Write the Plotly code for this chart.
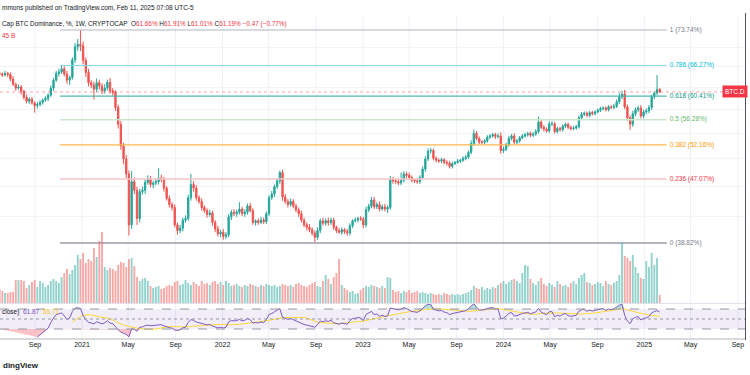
import numpy as np
import pandas as pd
import plotly.graph_objects as go

W, H = 750, 375

# ---------------- data (weekly BTC dominance) ----------------
week_start = "2020-06-01"
first_open = 64.7
close = [
    64.6, 64.4, 64.7, 64.5, 63.6, 62.6, 61.9, 62.1, 61.3, 60.2,
    59.5, 59.9, 59.2, 58.7, 58.9, 59.3, 59.7, 60.0, 60.6, 61.9,
    63.4, 64.7, 65.0, 65.6, 64.6, 63.4, 63.9, 67.4, 70.1, 70.6,
    70.3, 67.3, 64.9, 62.9, 62.5, 61.7, 62.9, 62.3, 61.4, 61.9,
    63.0, 61.4, 61.1, 58.4, 55.5, 52.0, 50.0, 47.8, 41.0, 46.7,
    45.5, 41.8, 45.3, 45.5, 46.6, 47.1, 46.3, 46.5, 46.7, 47.2,
    47.0, 45.8, 44.4, 43.6, 43.2, 41.0, 40.3, 40.6, 41.6, 41.8,
    44.5, 46.3, 45.8, 44.5, 44.0, 43.2, 42.8, 42.3, 42.5, 41.3,
    40.5, 39.9, 40.1, 39.6, 39.8, 42.0, 42.6, 42.4, 42.6, 43.0,
    42.4, 42.6, 43.4, 42.8, 41.3, 41.5, 41.3, 41.6, 41.4, 42.4,
    44.5, 45.0, 46.0, 46.8, 48.0, 44.6, 44.0, 43.6, 44.0, 43.4,
    42.9, 42.4, 41.6, 41.0, 40.7, 40.4, 40.0, 39.5, 40.3, 41.5,
    41.2, 41.5, 41.3, 41.6, 40.7, 40.3, 40.1, 40.4, 40.2, 40.0,
    40.9, 41.5, 41.6, 41.8, 41.7, 41.0, 42.9, 43.4, 44.2, 43.3,
    43.6, 43.0, 43.3, 43.0, 43.2, 47.0, 46.8, 46.7, 46.5, 46.9,
    47.8, 47.6, 47.3, 46.9, 46.8, 46.7, 47.3, 48.5, 50.0, 51.2,
    51.3, 50.1, 49.8, 49.7, 49.9, 49.5, 49.4, 48.9, 49.3, 49.5,
    49.7, 49.8, 50.1, 50.3, 51.0, 52.4, 54.0, 53.2, 52.6, 52.6,
    52.8, 53.4, 53.6, 53.8, 53.5, 53.6, 51.3, 51.5, 52.2, 53.2,
    53.6, 52.6, 52.8, 53.3, 53.6, 53.8, 54.0, 53.7, 53.9, 54.3,
    55.9, 55.0, 54.7, 54.4, 55.6, 55.6, 54.3, 54.8, 54.6, 55.2,
    55.5, 55.0, 54.8, 54.9, 55.1, 56.6, 57.2, 57.4, 57.0, 57.5,
    57.3, 57.6, 57.9, 58.2, 58.3, 58.0, 58.5, 58.4, 58.6, 59.4,
    60.3, 60.8, 58.5, 56.6, 55.5, 57.3, 58.0, 58.3, 56.9, 57.6,
    57.8, 58.4, 60.3, 61.0, 61.66, 61.19,
]
upper_wick = [
    0.4, 0.3, 0.5, 0.3, 0.4, 0.6, 0.3, 0.5, 0.4, 0.3,
    0.5, 0.3, 0.4, 0.3, 0.5, 0.4, 0.3, 0.4, 0.3, 0.5,
    0.4, 0.5, 0.6, 0.7, 0.5, 0.6, 0.4, 0.5, 0.8, 1.2,
    3.14, 0.9, 0.6, 0.7, 0.5, 0.6, 0.8, 0.6, 0.5, 0.7,
    0.5, 0.8, 0.5, 0.4, 0.5, 0.6, 0.5, 0.6, 0.5, 1.5,
    0.6, 0.5, 0.4, 0.5, 0.4, 0.5, 0.4, 0.3, 0.4, 1.4,
    0.5, 0.4, 0.3, 0.4, 0.3, 0.4, 0.3, 0.4, 0.3, 0.4,
    0.4, 1.5, 0.5, 0.4, 0.3, 0.4, 0.3, 0.3, 0.4, 0.3,
    0.3, 0.4, 0.3, 0.4, 0.3, 0.4, 0.3, 0.4, 0.3, 0.9,
    0.3, 0.4, 0.3, 0.4, 0.3, 0.2, 0.3, 0.4, 0.3, 0.3,
    0.3, 0.4, 0.3, 0.4, 0.3, 0.4, 0.4, 0.3, 0.4, 0.3,
    0.3, 0.3, 0.4, 0.3, 0.3, 0.4, 0.3, 0.3, 0.4, 0.3,
    0.4, 0.3, 0.4, 0.3, 0.3, 0.2, 0.3, 0.3, 0.2, 0.3,
    0.3, 0.2, 0.3, 0.2, 0.3, 0.3, 0.4, 0.3, 0.4, 0.4,
    0.3, 0.4, 0.3, 0.4, 0.3, 0.5, 0.4, 0.3, 0.4, 1.1,
    0.4, 0.3, 0.4, 0.3, 0.2, 0.3, 0.3, 0.4, 0.4, 0.4,
    0.4, 0.3, 0.3, 0.3, 0.3, 0.2, 0.3, 0.3, 0.3, 0.2,
    0.3, 0.2, 0.3, 0.3, 0.3, 0.5, 0.6, 0.4, 0.3, 0.3,
    0.3, 0.3, 0.3, 0.3, 0.3, 0.4, 0.6, 0.4, 0.3, 0.4,
    0.3, 0.4, 0.3, 0.3, 0.3, 0.3, 0.3, 0.3, 0.3, 0.4,
    0.9, 0.5, 0.4, 0.3, 0.4, 0.4, 0.3, 0.3, 0.3, 0.3,
    0.3, 0.3, 0.3, 0.3, 0.3, 0.4, 0.4, 0.3, 0.3, 0.3,
    0.3, 0.3, 0.3, 0.3, 0.3, 0.3, 0.3, 0.3, 0.4, 0.4,
    0.7, 0.6, 0.8, 0.4, 0.4, 0.5, 0.4, 0.4, 0.5, 0.4,
    0.4, 0.4, 0.4, 0.3, 2.74, 0.25,
]
lower_wick = [
    0.3, 0.4, 0.3, 0.5, 0.4, 0.3, 0.5, 0.3, 0.6, 0.4,
    0.4, 0.5, 0.3, 1.2, 0.5, 0.3, 0.4, 0.3, 0.5, 0.3,
    0.5, 0.3, 0.6, 0.4, 0.5, 0.7, 0.9, 0.4, 0.6, 0.8,
    1.1, 0.8, 0.9, 0.7, 0.6, 1.9, 0.5, 0.7, 0.6, 0.5,
    0.4, 0.5, 0.6, 0.6, 0.7, 0.6, 0.8, 0.6, 1.3, 0.5,
    0.5, 0.8, 0.5, 0.4, 0.5, 0.3, 0.4, 0.5, 0.3, 0.4,
    0.4, 0.5, 0.3, 0.4, 0.4, 0.3, 0.5, 0.3, 0.4, 0.3,
    0.3, 0.4, 0.5, 0.4, 0.3, 0.4, 0.3, 0.4, 0.3, 0.4,
    0.4, 0.3, 0.4, 0.4, 0.3, 0.3, 0.4, 0.3, 0.4, 0.3,
    0.3, 0.4, 0.3, 0.2, 0.3, 0.4, 0.3, 0.2, 0.3, 0.3,
    0.3, 0.3, 0.4, 0.3, 0.4, 0.5, 0.3, 0.4, 0.3, 0.3,
    0.3, 0.4, 0.3, 0.3, 0.4, 0.3, 0.3, 0.68, 0.3, 0.3,
    0.3, 0.3, 0.4, 0.3, 0.3, 0.3, 0.2, 0.3, 0.3, 0.3,
    0.3, 0.3, 0.2, 0.3, 0.2, 0.4, 0.3, 0.3, 0.3, 0.3,
    0.3, 0.3, 0.2, 0.3, 0.5, 0.3, 0.4, 0.3, 0.3, 0.3,
    0.3, 0.4, 0.3, 0.3, 0.3, 0.3, 0.3, 0.3, 0.4, 0.3,
    0.4, 0.3, 0.3, 0.3, 0.3, 0.3, 0.4, 0.3, 0.3, 0.2,
    0.2, 0.3, 0.2, 0.3, 0.3, 0.3, 0.4, 0.3, 0.3, 0.3,
    0.3, 0.3, 0.3, 0.3, 0.4, 0.3, 0.5, 0.4, 0.3, 0.3,
    0.3, 0.3, 0.3, 0.3, 0.2, 0.3, 0.3, 0.3, 0.3, 0.3,
    0.3, 0.3, 0.4, 0.3, 0.3, 0.4, 0.3, 0.3, 0.3, 0.3,
    0.3, 0.3, 0.3, 0.3, 0.3, 0.3, 0.3, 0.3, 0.3, 0.3,
    0.3, 0.3, 0.2, 0.3, 0.3, 0.3, 0.3, 0.3, 0.3, 0.3,
    0.4, 0.4, 0.4, 0.5, 0.9, 0.4, 0.4, 0.4, 0.4, 0.4,
    0.4, 0.4, 0.4, 0.4, 0.4, 0.18,
]
volume = [
    14, 12, 10, 10, 11, 11, 23, 23, 23, 22,
    15, 18, 21, 23, 16, 22, 20, 16, 18, 22,
    24, 22, 20, 26, 30, 34, 29, 33, 38, 48,
    44, 50, 40, 44, 42, 55, 46, 62, 71, 36,
    33, 35, 34, 32, 38, 41, 40, 36, 44, 45,
    37, 26, 22, 24, 25, 22, 17, 15, 16, 17,
    14, 15, 17, 18, 17, 21, 22, 18, 19, 23,
    20, 18, 21, 19, 17, 22, 19, 20, 18, 21,
    22, 19, 21, 18, 22, 20, 17, 18, 19, 17,
    16, 18, 17, 19, 18, 17, 16, 18, 17, 19,
    18, 17, 18, 16, 17, 19, 18, 17, 18, 16,
    19, 20, 18, 17, 16, 18, 20, 21, 17, 16,
    22, 28, 24, 19, 26, 30, 44, 18, 15, 13,
    11, 12, 9, 10, 13, 15, 17, 16, 18, 17,
    16, 15, 17, 15, 26, 25, 13, 11, 12, 10,
    12, 11, 13, 10, 11, 12, 10, 11, 10, 9,
    10, 9, 8, 9, 8, 10, 9, 8, 9, 8,
    9, 8, 9, 10, 11, 13, 17, 15, 14, 16,
    13, 15, 14, 16, 15, 18, 20, 22, 19, 21,
    23, 24, 22, 20, 30, 38, 37, 24, 20, 18,
    22, 25, 19, 17, 20, 18, 16, 22, 19, 17,
    18, 16, 20, 22, 19, 25, 28, 30, 21, 20,
    18, 19, 21, 20, 17, 22, 19, 18, 20, 22,
    28, 60, 47, 45, 42, 48, 36, 30, 25, 24,
    42, 36, 50, 38, 45, 8,
]

fib_ratios = ["1", "0.786", "0.618", "0.5", "0.382", "0.236", "0"]
fib_values = [73.74, 66.27, 60.41, 56.28, 52.16, 47.07, 38.82]
fib_line_colors = ["#b2b5be", "#80deea", "#4db6ac", "#c8e6c9", "#ffb74d", "#f8c4c8", "#b2b5be"]
fib_text_colors = ["#787b86", "#00bcd4", "#089981", "#66bb6a", "#ff9800", "#f23645", "#787b86"]
fib_line_widths = [1, 1, 1.3, 1.5, 1.3, 1.5, 2]
fib_start, fib_end, fib_label_x = "2020-11-05", "2025-02-28", "2025-03-08"

tick_dates = ["2020-09-01", "2021-01-01", "2021-05-01", "2021-09-01", "2022-01-01",
              "2022-05-01", "2022-09-01", "2023-01-01", "2023-05-01", "2023-09-01",
              "2024-01-01", "2024-05-01", "2024-09-01", "2025-01-01", "2025-05-01",
              "2025-09-01"]
tick_labels = ["Sep", "2021", "May", "Sep", "2022", "May", "Sep", "2023", "May", "Sep",
               "2024", "May", "Sep", "2025", "May", "Sep"]
price_grid = [42, 46, 50, 54, 58, 62, 66, 70]
last_close = 61.19

# ---------------- derived ----------------
dates = pd.date_range(week_start, periods=len(close), freq="7D")
opens = [first_open] + close[:-1]
highs = [max(o, c) + u for o, c, u in zip(opens, close, upper_wick)]
lows = [min(o, c) - d for o, c, d in zip(opens, close, lower_wick)]
UP, DN = "#26a69a", "#ef5350"
vol_colors = ["rgba(38,166,154,0.5)" if c >= o else "rgba(239,83,80,0.5)" for o, c in zip(opens, close)]

# RSI(14) with Wilder smoothing + SMA(14)
c = np.array(close, dtype=float)
d = np.diff(c)
g = np.where(d > 0, d, 0.0)
l = np.where(d < 0, -d, 0.0)
n = 14
rsi = np.full(len(c), np.nan)
ag, al = g[:n].mean(), l[:n].mean()
rsi[n] = 100 - 100 / (1 + ag / al)
for i in range(n + 1, len(c)):
    ag = (ag * (n - 1) + g[i - 1]) / n
    al = (al * (n - 1) + l[i - 1]) / n
    rsi[i] = 100 - 100 / (1 + ag / al)
rsi_ma = pd.Series(rsi).rolling(14).mean().values

# ---------------- geometry ----------------
def X(px):
    return px / W

def Y(py):
    return 1 - py / H

k10 = 332 * np.log(10)
ytop = np.log10(73.74) + (30 - 15) / k10
ybot = np.log10(73.74) - (303 - 30) / k10

fig = go.Figure()

fig.add_trace(go.Bar(x=dates, y=volume, marker=dict(color=vol_colors, line=dict(width=0)),
                     width=7 * 24 * 3600 * 1000 * 0.7, yaxis="y3", xaxis="x", hoverinfo="skip"))

for ratio, val, lc, tc, lw in zip(fib_ratios, fib_values, fib_line_colors, fib_text_colors, fib_line_widths):
    fig.add_trace(go.Scatter(x=[fib_start, fib_end], y=[val, val], mode="lines",
                             line=dict(color=lc, width=lw), yaxis="y", hoverinfo="skip"))
    fig.add_trace(go.Scatter(x=[fib_label_x], y=[val], mode="text",
                             text=[f"{ratio} ({val:.2f}%)"], textposition="middle right",
                             textfont=dict(size=6.5, color=tc, family="Liberation Sans"),
                             yaxis="y", hoverinfo="skip"))

fig.add_trace(go.Scatter(x=["2020-06-02", "2025-09-19"], y=[last_close, last_close], mode="lines",
                         line=dict(color="rgba(242,54,69,0.45)", width=1, dash="dot"),
                         yaxis="y", hoverinfo="skip"))

fig.add_trace(go.Candlestick(
    x=dates, open=opens, high=highs, low=lows, close=close,
    increasing=dict(line=dict(color=UP, width=1), fillcolor=UP),
    decreasing=dict(line=dict(color=DN, width=1), fillcolor=DN),
    whiskerwidth=0, yaxis="y", xaxis="x", hoverinfo="skip"))

# RSI pane
r_lo = np.where(np.isnan(rsi), np.nan, np.minimum(rsi, 30))
r_hi = np.where(np.isnan(rsi), np.nan, np.maximum(rsi, 70))
fig.add_trace(go.Scatter(x=dates, y=[30] * len(dates), mode="lines", line=dict(width=0),
                         yaxis="y2", hoverinfo="skip"))
fig.add_trace(go.Scatter(x=dates, y=r_lo, mode="lines", line=dict(width=0), fill="tonexty",
                         fillcolor="rgba(242,54,69,0.3)", yaxis="y2", hoverinfo="skip"))
fig.add_trace(go.Scatter(x=dates, y=[70] * len(dates), mode="lines", line=dict(width=0),
                         yaxis="y2", hoverinfo="skip"))
fig.add_trace(go.Scatter(x=dates, y=r_hi, mode="lines", line=dict(width=0), fill="tonexty",
                         fillcolor="rgba(8,153,129,0.3)", yaxis="y2", hoverinfo="skip"))
fig.add_trace(go.Scatter(x=dates, y=rsi_ma, mode="lines", line=dict(color="#fdd835", width=1),
                         yaxis="y2", hoverinfo="skip"))
fig.add_trace(go.Scatter(x=dates, y=rsi, mode="lines", line=dict(color="#7e57c2", width=1),
                         yaxis="y2", hoverinfo="skip"))

shapes = []
for td in tick_dates:
    shapes.append(dict(type="line", xref="x", yref="paper", x0=td, x1=td, y0=Y(339), y1=Y(15),
                       line=dict(color="#eef1f6", width=1), layer="below"))
shapes.append(dict(type="rect", xref="paper", yref="y2", x0=0, x1=X(745), y0=30, y1=70,
                   fillcolor="rgba(126,87,194,0.10)", line=dict(width=0), layer="below"))
for lvl, dash in [(70, "dash"), (50, "dot"), (30, "dash")]:
    shapes.append(dict(type="line", xref="paper", yref="y2", x0=0, x1=X(745), y0=lvl, y1=lvl,
                       line=dict(color="#9598a1", width=1, dash=dash)))
shapes.append(dict(type="line", xref="paper", yref="paper", x0=0, x1=X(745), y0=Y(303.5), y1=Y(303.5),
                   line=dict(color="#e0e3eb", width=1)))
shapes.append(dict(type="line", xref="paper", yref="paper", x0=0, x1=X(745), y0=Y(339), y1=Y(339),
                   line=dict(color="#b2b5be", width=1)))
shapes.append(dict(type="line", xref="paper", yref="paper", x0=X(745.5), x1=X(745.5), y0=Y(340), y1=Y(13),
                   line=dict(color="#50535e", width=1)))

F = "Liberation Sans"
annotations = [
    dict(x=X(0), y=Y(8), xref="paper", yref="paper", xanchor="left", yanchor="middle", showarrow=False,
         text="mmons published on TradingView.com, Feb 11, 2025 07:08 UTC-5",
         font=dict(size=6.5, color="#131722", family=F)),
    dict(x=X(0), y=Y(24), xref="paper", yref="paper", xanchor="left", yanchor="middle", showarrow=False,
         text=("Cap BTC Dominance, %, 1W, CRYPTOCAP  O<span style='color:#f23645'>61.66%</span> "
               "H<span style='color:#f23645'>61.91%</span> L<span style='color:#f23645'>61.01%</span> "
               "C<span style='color:#f23645'>61.19%</span> <span style='color:#f23645'>\u22120.47 (\u22120.77%)</span>"),
         font=dict(size=6.4, color="#131722", family=F)),
    dict(x=X(0), y=Y(35), xref="paper", yref="paper", xanchor="left", yanchor="middle", showarrow=False,
         text="45 B", font=dict(size=6.5, color="#f23645", family=F)),
    dict(x=X(0), y=Y(312), xref="paper", yref="paper", xanchor="left", yanchor="middle", showarrow=False,
         text="close)  <span style='color:#7e57c2'>61.87</span>  <span style='color:#f5c518'>55.71</span>",
         font=dict(size=6.5, color="#131722", family=F)),
    dict(x=X(734.5), y=Y(92), xref="paper", yref="paper", xanchor="center", yanchor="middle", showarrow=False,
         text="BTC.D", bgcolor="#f23645", font=dict(size=6.5, color="white", family=F), borderpad=2),
    dict(x=X(1), y=Y(365), xref="paper", yref="paper", xanchor="left", yanchor="middle", showarrow=False,
         text="<b>dingView</b>", font=dict(size=8, color="#131722", family=F)),
]

fig.update_layout(
    width=W, height=H, margin=dict(l=0, r=0, t=0, b=0, pad=0),
    paper_bgcolor="white", plot_bgcolor="white", showlegend=False, template="none",
    shapes=shapes, annotations=annotations,
    xaxis=dict(type="date", domain=[0, X(745)], range=["2020-06-02", "2025-09-19 12:00"],
               anchor="y2", tickmode="array", tickvals=tick_dates, ticktext=tick_labels,
               tickfont=dict(size=7, color="#131722", family=F), ticks="", showgrid=False,
               zeroline=False, showline=False, rangeslider=dict(visible=False), fixedrange=True),
    yaxis=dict(type="log", domain=[Y(303), Y(15)], range=[ybot, ytop], showticklabels=False,
               tickmode="array", tickvals=price_grid, showgrid=True, gridcolor="#f2f4f8",
               zeroline=False, ticks="", anchor="x", fixedrange=True),
    yaxis2=dict(domain=[Y(339), Y(303)], range=[10, 82], showticklabels=False, showgrid=False,
                zeroline=False, ticks="", anchor="x", fixedrange=True),
    yaxis3=dict(overlaying="y", range=[0, 288], showticklabels=False, showgrid=False,
                zeroline=False, ticks="", anchor="x", fixedrange=True),
)

fig.write_html("out.html", config={"displayModeBar": False, "staticPlot": True},
               post_script="document.body.style.margin='0';document.body.style.overflow='hidden';")
